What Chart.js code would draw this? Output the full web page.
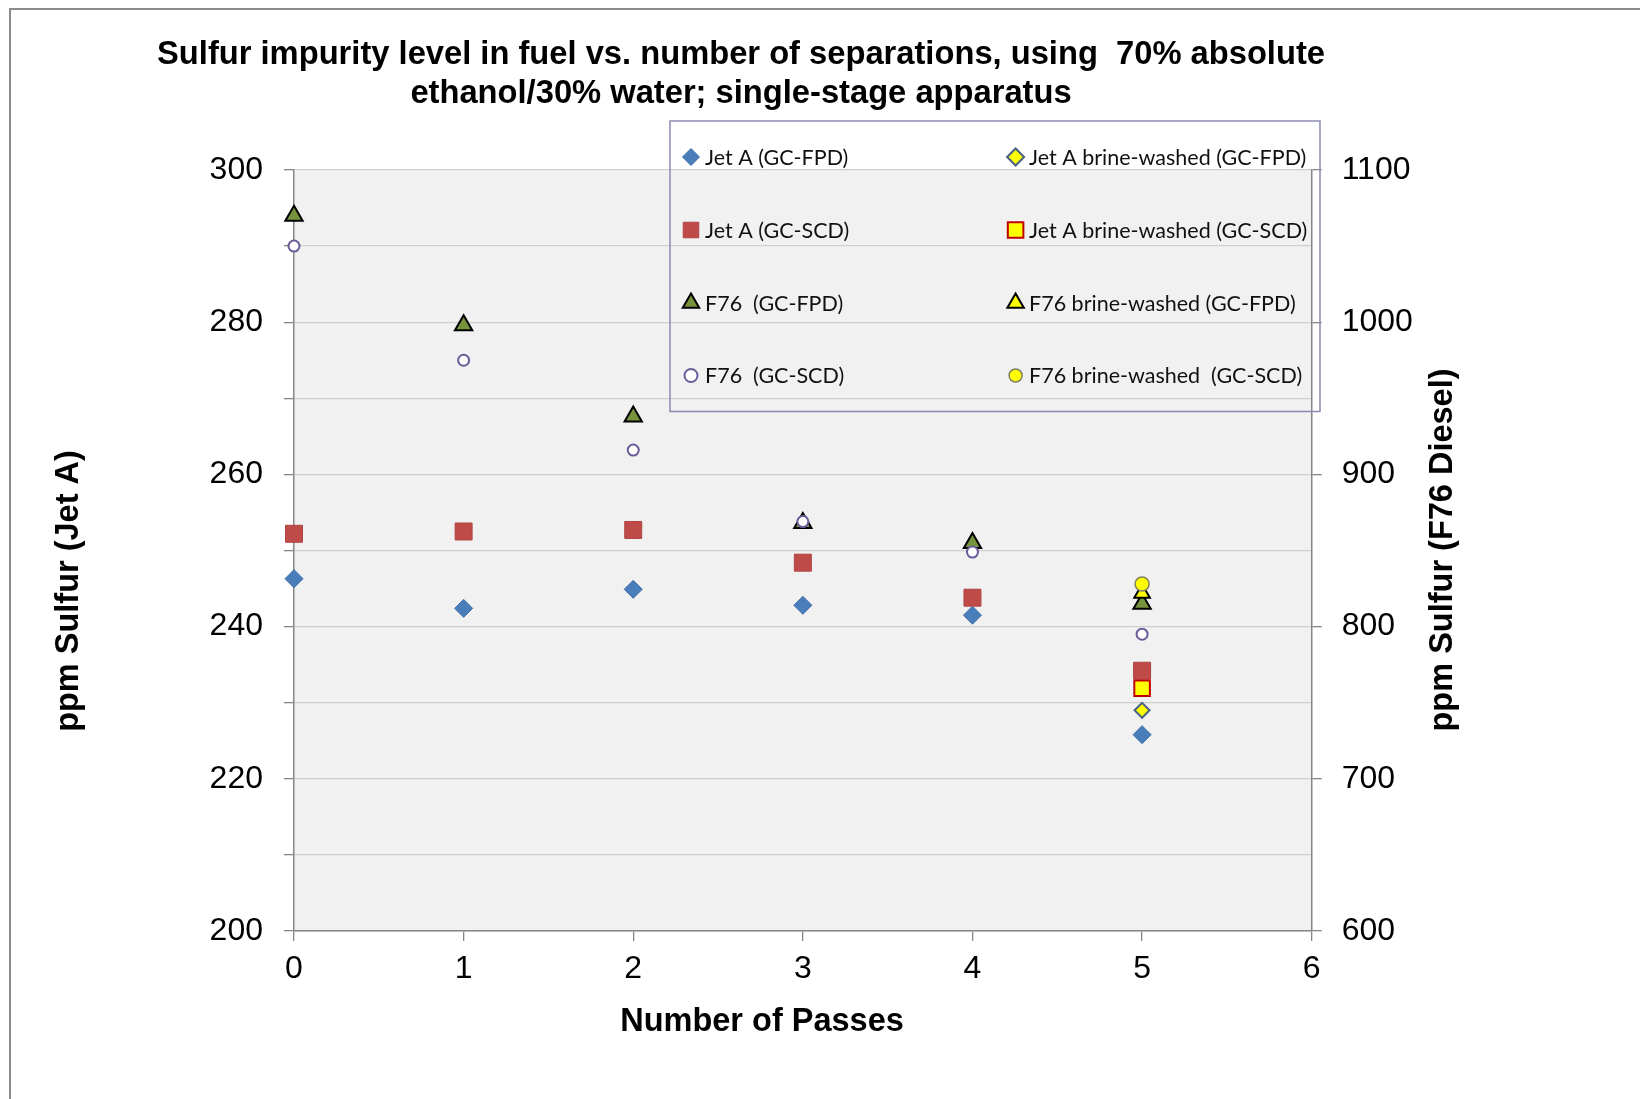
<!DOCTYPE html>
<html>
<head>
<meta charset="utf-8">
<script src="https://cdn.jsdelivr.net/npm/chart.js@4.4.1/dist/chart.umd.min.js"></script>
<style>
  html, body { margin: 0; padding: 0; background: #fff; width: 1640px; height: 1099px; overflow: hidden; }
  #frame { position: absolute; left: 9px; top: 8px; width: 1700px; height: 1200px; border: 2px solid #8d8d8d; }
  #box { position: absolute; left: 11px; top: 10px; width: 1460px; height: 1089px; }
</style>
</head>
<body>
<div id="frame"></div>
<div id="box"><canvas id="c"></canvas></div>
<script>
// Number of separation passes
const passes = [0, 1, 2, 3, 4, 5];
const brinePass = [5];

// Jet A, ppm sulfur (left axis)
const jetA_FPD = [246.3, 242.4, 244.9, 242.8, 241.5, 225.8];
const jetA_SCD = [252.2, 252.5, 252.7, 248.4, 243.8, 234.2];
const jetA_brine_FPD = [229.0];
const jetA_brine_SCD = [231.9];

// F76 diesel, ppm sulfur (right axis)
const f76_FPD = [1070, 998, 938, 868, 855, 815];
const f76_SCD = [1050, 975, 916, 869, 849, 795];
const f76_brine_FPD = [822];
const f76_brine_SCD = [828];

const seriesNames = [
  'Jet A (GC-FPD)', 'Jet A brine-washed (GC-FPD)',
  'Jet A (GC-SCD)', 'Jet A brine-washed (GC-SCD)',
  'F76  (GC-FPD)', 'F76 brine-washed (GC-FPD)',
  'F76  (GC-SCD)', 'F76 brine-washed  (GC-SCD)'
];

const leftTicks = { min: 200, max: 300, step: 10, labelEvery: 20 };
const rightTicks = { min: 600, max: 1100, step: 100 };
const xTicks = { min: 0, max: 6, step: 1 };

const titleLines = ['Sulfur impurity level in fuel vs. number of separations, using  70% absolute',
                    'ethanol/30% water; single-stage apparatus'];
const xTitle = 'Number of Passes';
const leftTitle = 'ppm Sulfur (Jet A)';
const rightTitle = 'ppm Sulfur (F76 Diesel)';

const FONT = "'Liberation Sans', Arial, Helvetica, sans-serif";

function pts(xs, ys) { return xs.map((x, i) => ({ x: x, y: ys[i] })); }

const styles = [
  { pointStyle: 'rectRot',  radius: 9,   bg: '#4a7ebb', border: '#3d6ea8', bw: 1,   axis: 'y'  },
  { pointStyle: 'rectRot',  radius: 7.5, bg: '#ffff00', border: '#4a6286', bw: 2,   axis: 'y'  },
  { pointStyle: 'rect',     radius: 12,  bg: '#be4b48', border: '#b04340', bw: 1,   axis: 'y'  },
  { pointStyle: 'rect',     radius: 11,  bg: '#ffff00', border: '#c00000', bw: 2,   axis: 'y'  },
  { pointStyle: 'triangle', radius: 10,  bg: '#77933c', border: '#000000', bw: 2,   axis: 'y1' },
  { pointStyle: 'triangle', radius: 9,   bg: '#ffff00', border: '#000000', bw: 2,   axis: 'y1' },
  { pointStyle: 'circle',   radius: 5.5, bg: '#ffffff', border: '#6b5b9a', bw: 2,   axis: 'y1' },
  { pointStyle: 'circle',   radius: 7,   bg: '#ffff00', border: '#7f7f62', bw: 1.5, axis: 'y1' }
];

const seriesData = [
  pts(passes, jetA_FPD), pts(brinePass, jetA_brine_FPD),
  pts(passes, jetA_SCD), pts(brinePass, jetA_brine_SCD),
  pts(passes, f76_FPD),  pts(brinePass, f76_brine_FPD),
  pts(passes, f76_SCD),  pts(brinePass, f76_brine_SCD)
];

// Draw order: Jet A first, F76 on top, brine-washed after their counterparts
const drawOrder = [8, 6, 7, 5, 4, 2, 3, 1];

const datasets = seriesData.map((d, i) => ({
  label: seriesNames[i],
  data: d,
  yAxisID: styles[i].axis,
  pointStyle: styles[i].pointStyle,
  pointRadius: styles[i].radius,
  pointBackgroundColor: styles[i].bg,
  pointBorderColor: styles[i].border,
  pointBorderWidth: styles[i].bw,
  showLine: false,
  clip: false,
  order: drawOrder[i]
}));

// Marker shapes, same geometry as Chart.js point styles
function marker(ctx, st, x, y, r) {
  ctx.save();
  ctx.fillStyle = st.bg; ctx.strokeStyle = st.border; ctx.lineWidth = st.bw;
  ctx.beginPath();
  if (st.pointStyle === 'rectRot') {
    ctx.moveTo(x - r, y); ctx.lineTo(x, y - r); ctx.lineTo(x + r, y); ctx.lineTo(x, y + r); ctx.closePath();
  } else if (st.pointStyle === 'rect') {
    const s = Math.SQRT1_2 * r; ctx.rect(x - s, y - s, 2 * s, 2 * s);
  } else if (st.pointStyle === 'triangle') {
    ctx.moveTo(x, y - r);
    ctx.lineTo(x + Math.sin(2 * Math.PI / 3) * r, y + r / 2);
    ctx.lineTo(x - Math.sin(2 * Math.PI / 3) * r, y + r / 2);
    ctx.closePath();
  } else {
    ctx.arc(x, y, r, 0, Math.PI * 2);
  }
  ctx.fill(); ctx.stroke();
  ctx.restore();
}

const plotBackground = {
  id: 'plotBackground',
  beforeDraw(chart) {
    const { ctx, chartArea: a } = chart;
    ctx.save();
    ctx.fillStyle = '#f1f1f1';
    ctx.fillRect(a.left, a.top, a.right - a.left, a.bottom - a.top);
    ctx.restore();
  }
};

// Axis titles: x title sits left of the plot centre, y titles read bottom-to-top
const axisTitles = {
  id: 'axisTitles',
  afterDraw(chart) {
    const ctx = chart.ctx;
    const items = [
      [xTitle, 751, 1012.5, 0],
      [leftTitle, 58.5, 581, -Math.PI / 2],
      [rightTitle, 1432, 540, -Math.PI / 2]
    ];
    ctx.save();
    ctx.font = 'bold 32.5px ' + FONT;
    ctx.fillStyle = '#000';
    ctx.textAlign = 'center';
    ctx.textBaseline = 'middle';
    items.forEach(([t, x, y, rot]) => {
      ctx.save(); ctx.translate(x, y); ctx.rotate(rot); ctx.fillText(t, 0, 0); ctx.restore();
    });
    ctx.restore();
  }
};

const boxLegend = {
  id: 'boxLegend',
  afterDraw(chart) {
    const ctx = chart.ctx;
    const box = { x: 659, y: 111, w: 650, h: 290.5 };
    const rowY = [147, 220, 293, 365.5];
    const markX = [680, 1004.6];
    const textX = [694, 1018];
    ctx.save();
    ctx.strokeStyle = '#8a8ab5';
    ctx.lineWidth = 1.5;
    ctx.strokeRect(box.x, box.y, box.w, box.h);
    ctx.font = '21.5px Lato, ' + FONT;
    ctx.textAlign = 'left';
    ctx.textBaseline = 'middle';
    seriesNames.forEach((name, i) => {
      const row = Math.floor(i / 2), col = i % 2;
      const st = styles[i];
      const r = st.pointStyle === 'rect' ? 11 : st.pointStyle === 'circle' ? 6.5 : st.pointStyle === 'triangle' ? 9.5 : 8.5;
      marker(ctx, st, markX[col], rowY[row], r);
      ctx.fillStyle = '#111';
      ctx.fillText(name, textX[col], rowY[row] + 1);
    });
    ctx.restore();
  }
};

new Chart(document.getElementById('c'), {
  type: 'scatter',
  data: { datasets },
  plugins: [plotBackground, axisTitles, boxLegend],
  options: {
    responsive: true,
    maintainAspectRatio: false,
    animation: false,
    devicePixelRatio: 1,
    events: [],
    layout: { padding: 0 },
    plugins: {
      legend: { display: false },
      tooltip: { enabled: false },
      title: {
        display: true,
        text: titleLines,
        color: '#000',
        font: { family: FONT, size: 32.7, weight: 'bold', lineHeight: 1.193 },
        padding: { top: 25.5, bottom: 56.5 }
      }
    },
    scales: {
      x: {
        type: 'linear',
        min: xTicks.min, max: xTicks.max,
        afterFit(s) { s.height = 168; },
        ticks: { stepSize: xTicks.step, padding: 9.3, color: '#000', font: { family: FONT, size: 32 } },
        grid: { drawOnChartArea: false, drawTicks: true, tickLength: 10, color: '#868686', lineWidth: 1.3 },
        border: { color: '#868686', width: 1.5 }
      },
      y: {
        type: 'linear',
        position: 'left',
        min: leftTicks.min, max: leftTicks.max,
        afterFit(s) { s.width = 283; },
        ticks: {
          stepSize: leftTicks.step, padding: 21, color: '#000', font: { family: FONT, size: 32 },
          callback: v => (v % leftTicks.labelEvery === 0 ? String(v) : '')
        },
        grid: { color: '#cfcfcf', lineWidth: 1.3, tickColor: '#868686', tickLength: 10 },
        border: { color: '#868686', width: 1.5 }
      },
      y1: {
        type: 'linear',
        position: 'right',
        min: rightTicks.min, max: rightTicks.max,
        afterFit(s) { s.width = 159.3; },
        ticks: { stepSize: rightTicks.step, padding: 20, color: '#000', font: { family: FONT, size: 32 },
                 callback: v => String(v) },
        grid: { drawOnChartArea: false, drawTicks: true, tickLength: 10, color: '#868686', lineWidth: 1.3 },
        border: { color: '#868686', width: 1.5 }
      }
    }
  }
});
</script>
</body>
</html>
